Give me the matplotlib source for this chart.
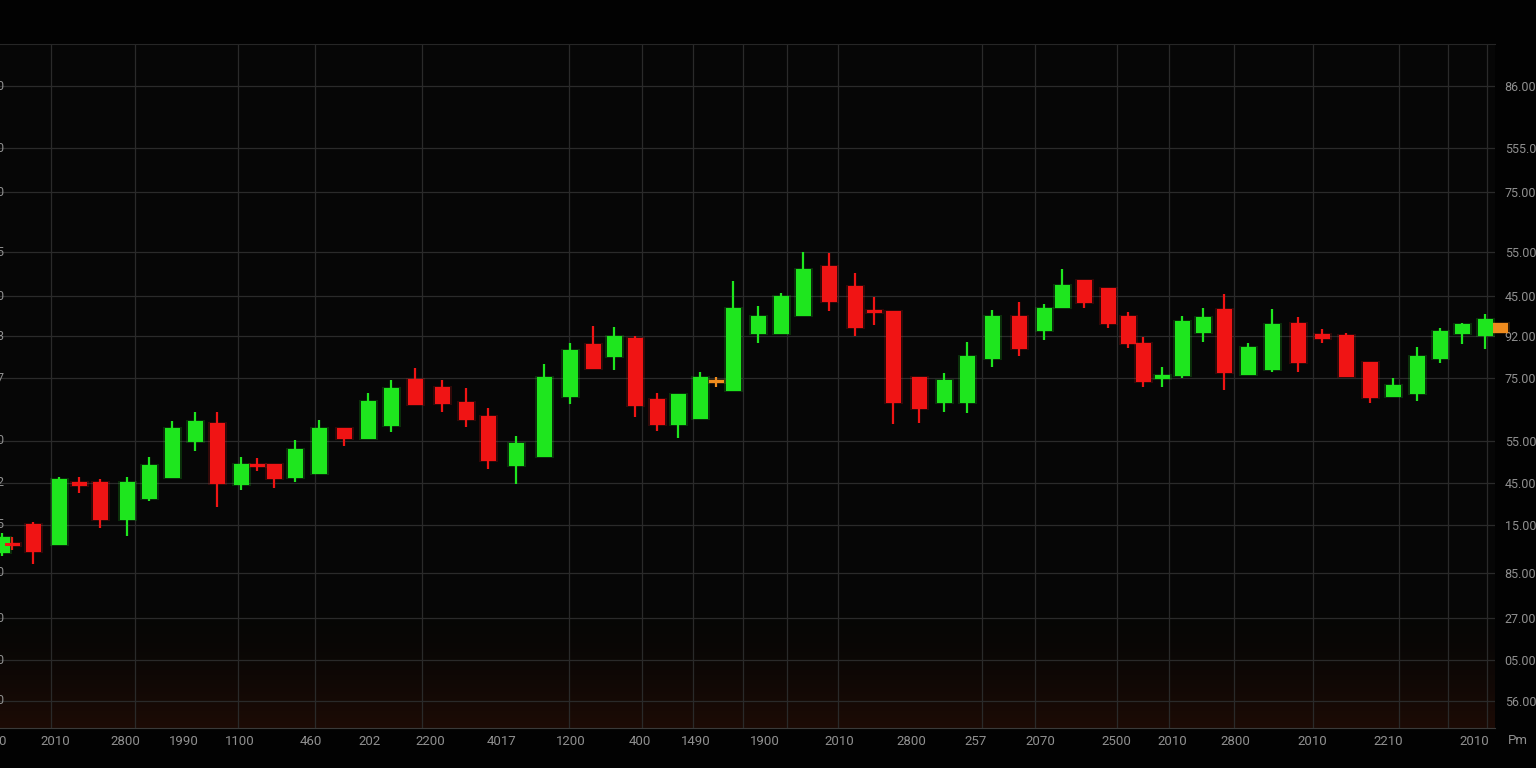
import matplotlib
matplotlib.use('Agg')
from matplotlib import pyplot as plt
import numpy as np

# session positions along the time axis
session = [2, 12, 33, 59, 79, 100, 127, 149, 172, 195, 217, 241, 257, 274, 295, 319,
           344, 368, 391, 415, 442, 466, 488, 516, 544, 570, 593, 614, 635, 657, 678, 700,
           716, 733, 758, 781, 803, 829, 855, 874, 893, 919, 944, 967, 992, 1019, 1044, 1062,
           1084, 1108, 1128, 1143, 1162, 1182, 1203, 1224, 1248, 1272, 1298, 1322, 1346, 1370,
           1393, 1417, 1440, 1462, 1485, 1500]

opens = [175, 185, 204, 183, 246, 246, 208, 229, 250, 286, 305, 243, 264, 264, 250, 254,
         300, 289, 302, 349, 341, 326, 312, 262, 271, 331, 384, 371, 390, 329, 303, 309,
         348, 337, 394, 394, 412, 462, 442, 418, 417, 351, 325, 325, 369, 412, 397, 420,
         448, 440, 412, 385, 349, 352, 395, 419, 353, 358, 405, 394, 393, 366,
         331, 334, 369, 394, 392, 395]
closes = [191, 182, 176, 249, 242, 208, 246, 263, 300, 307, 244, 264, 261, 249, 279, 300,
          289, 327, 340, 323, 324, 308, 267, 285, 351, 378, 359, 392, 322, 303, 334, 351,
          345, 420, 412, 432, 459, 426, 400, 415, 325, 319, 348, 372, 412, 379, 420, 443,
          425, 404, 384, 346, 353, 407, 411, 355, 381, 404, 365, 389, 351, 330,
          343, 372, 397, 404, 409, 405]
highs = [195, 191, 206, 251, 251, 249, 251, 271, 307, 316, 316, 271, 270, 264, 288, 308,
         300, 335, 348, 360, 348, 340, 320, 292, 364, 385, 402, 401, 392, 335, 334, 356,
         351, 447, 422, 435, 476, 475, 455, 431, 417, 351, 355, 386, 418, 426, 424, 459,
         448, 440, 416, 391, 361, 412, 420, 434, 385, 419, 411, 399, 395, 366,
         350, 381, 400, 405, 414, 405]
lows = [172, 178, 164, 183, 235, 200, 192, 227, 250, 277, 221, 238, 257, 240, 246, 254,
        282, 289, 296, 323, 316, 301, 259, 244, 271, 324, 359, 358, 311, 297, 290, 309,
        341, 337, 385, 394, 412, 417, 392, 403, 304, 305, 316, 315, 361, 372, 388, 420,
        420, 400, 380, 341, 341, 350, 386, 338, 353, 356, 356, 385, 351, 325,
        331, 327, 365, 384, 379, 395]
flat_idx = [32, 67]

y_ticks = [642, 580, 536, 476, 432, 392, 350, 287, 245, 203, 155, 110, 68, 27]
right_labels = ['86.00', '555.00', '75.00', '55.00', '45.00', '92.00', '75.00',
                '55.00', '45.00', '15.00', '85.00', '27.00', '05.00', '56.00']
left_labels = ['0', '0', '0', '5', '0', '3', '7', '0', '2', '5', '0', '0', '0', '0']

x_ticks = [2, 55, 125, 184, 240, 311, 370, 430, 502, 571, 640, 696, 765, 839, 911,
           976, 1040, 1116, 1172, 1235, 1312, 1388, 1474]
x_labels = ['0', '2010', '2800', '1990', '1100', '460', '202', '2200', '4017', '1200',
            '400', '1490', '1900', '2010', '2800', '257', '2070', '2500', '2010', '2800',
            '2010', '2210', '2010']

grid_x = [51, 135, 184, 238, 315, 370, 422, 502, 569, 642, 693, 743, 787, 838, 911,
          982, 1035, 1117, 1169, 1234, 1313, 1399, 1448, 1487]

UP = '#1ee61e'
DOWN = '#f01414'
FLAT = '#f08c1e'
TXT = '#909090'


def main():
    plt.rcParams['font.family'] = ['Roboto', 'DejaVu Sans']
    fig = plt.figure(figsize=(15.36, 7.68), dpi=100, facecolor='#020202')
    ax = fig.add_axes([0, 40 / 768, 1495 / 1536, 684 / 768])
    ax.set_facecolor('#060606')
    ax.set_xlim(0, 1495)
    ax.set_ylim(0, 684)

    # faint warm glow near the bottom, fading upwards
    grad = np.linspace(1, 0, 100) ** 1.6
    rgba = np.zeros((100, 1, 4))
    rgba[:, 0, 0] = 0.13
    rgba[:, 0, 1] = 0.05
    rgba[:, 0, 2] = 0.02
    rgba[:, 0, 3] = grad * 0.85
    ax.imshow(rgba, extent=[0, 1495, 0, 120], origin='lower', aspect='auto', zorder=0.5)

    o = np.array(opens)
    c = np.array(closes)
    colors = [UP if c[i] >= o[i] else DOWN for i in range(len(o))]
    for i in flat_idx:
        colors[i] = FLAT

    ax.vlines(session, lows, highs, colors=colors, linewidth=1.6, zorder=3, clip_on=False)
    bottoms = np.minimum(o, c)
    heights = np.maximum(np.abs(c - o), 3)
    # soft glow behind bodies
    ax.bar(session, heights + 2, bottom=bottoms - 1, width=19, color=colors, alpha=0.18,
           zorder=3, clip_on=False)
    ax.bar(session, heights, bottom=bottoms, width=15, color=colors, zorder=4, clip_on=False)

    # grid and labels
    ax.set_yticks(y_ticks, right_labels)
    ax.yaxis.tick_right()
    ax.set_xticks(x_ticks, x_labels)
    ax.set_xticks(grid_x, minor=True)
    ax.grid(True, axis='y', color='#2a2a2a', linewidth=0.9)
    ax.grid(True, axis='x', which='minor', color='#2a2a2a', linewidth=0.9)
    ax.tick_params(axis='y', length=0, pad=7, labelsize=9, labelcolor=TXT)
    ax.tick_params(axis='x', which='both', length=0, pad=5, labelsize=9.5, labelcolor=TXT)

    for side in ['left', 'right']:
        ax.spines[side].set_visible(False)
    ax.spines['top'].set_color('#262626')
    ax.spines['bottom'].set_color('#3a3a3a')

    tr = ax.get_yaxis_transform()
    for y, lab in zip(y_ticks, left_labels):
        ax.text(0.0, y, lab, transform=tr, ha='center', va='center', fontsize=9,
                color=TXT, clip_on=False)

    ax.text(1518, -12, 'Pm', ha='center', va='center', fontsize=9.5, color=TXT,
            clip_on=False)

    fig.savefig('out.png', dpi=100, facecolor=fig.get_facecolor())


if __name__ == '__main__':
    main()
